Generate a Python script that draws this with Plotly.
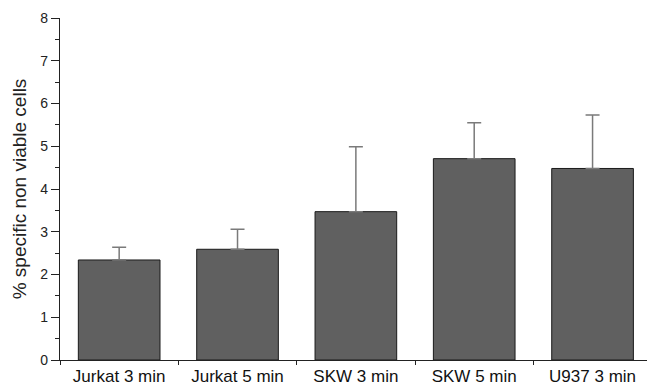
import plotly.graph_objects as go

categories = ["Jurkat 3 min", "Jurkat 5 min", "SKW 3 min", "SKW 5 min", "U937 3 min"]
values = [2.34, 2.59, 3.47, 4.71, 4.48]
errors_plus = [0.30, 0.47, 1.52, 0.84, 1.25]
y_ticks = [0, 1, 2, 3, 4, 5, 6, 7, 8]

xpos = list(range(len(categories)))

fig = go.Figure()
fig.add_trace(go.Bar(
    x=xpos, y=values, width=0.69,
    marker=dict(color="#606060", line=dict(color="#1a1a1a", width=1)),
    error_y=dict(type="data", symmetric=False, array=errors_plus,
                 arrayminus=[0] * len(values), color="#7a7a7a",
                 thickness=1.5, width=7),
    showlegend=False,
))

fig.update_layout(
    width=647, height=387,
    margin=dict(l=60, r=0, t=18, b=27),
    plot_bgcolor="white", paper_bgcolor="white",
    font=dict(family="Liberation Sans, Arial, sans-serif", color="#222"),
    bargap=0.31,
)
fig.update_xaxes(
    range=[-0.5, 4.46],
    tickmode="array", tickvals=xpos, ticktext=categories,
    ticks="", tickfont=dict(size=17, color="#111"),
    showline=True, linecolor="#222", linewidth=1.2,
    showgrid=False, zeroline=False, automargin=False,
    minor=dict(tick0=0.5, dtick=1, ticks="outside", ticklen=4,
               tickcolor="#222", showgrid=False),
)
fig.update_yaxes(
    range=[0, 8],
    tickmode="array", tickvals=y_ticks,
    ticks="outside", ticklen=8, tickcolor="#222",
    tickfont=dict(size=14, color="#222"),
    showline=True, linecolor="#222", linewidth=1.2,
    showgrid=False, zeroline=False, automargin=False,
    minor=dict(tick0=0.5, dtick=1, ticks="outside", ticklen=4,
               tickcolor="#222", showgrid=False),
    title=dict(text="% specific non viable cells", font=dict(size=19, color="#222"),
               standoff=8),
)

fig.write_html("out.html")
